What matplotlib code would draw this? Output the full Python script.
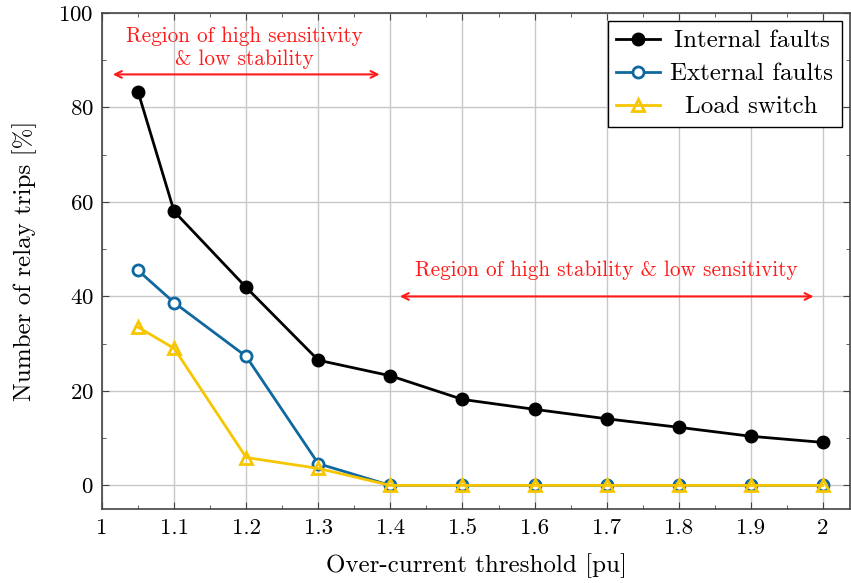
import matplotlib
matplotlib.use("Agg")
import matplotlib.pyplot as plt
from matplotlib.ticker import MultipleLocator

plt.rcParams['font.family'] = ['cmr10', 'DejaVu Serif']
plt.rcParams['mathtext.fontset'] = 'cm'
plt.rcParams['axes.formatter.use_mathtext'] = True

thresholds = [1.05, 1.1, 1.2, 1.3, 1.4, 1.5, 1.6, 1.7, 1.8, 1.9, 2.0]
internal = [83.3, 58.0, 41.9, 26.5, 23.2, 18.2, 16.1, 14.1, 12.3, 10.4, 9.1]
external = [45.5, 38.7, 27.3, 4.6, 0, 0, 0, 0, 0, 0, 0]
load_switch = [33.5, 29.0, 5.9, 3.6, 0, 0, 0, 0, 0, 0, 0]
xticks = [1, 1.1, 1.2, 1.3, 1.4, 1.5, 1.6, 1.7, 1.8, 1.9, 2]
xticklabels = ['1', '1.1', '1.2', '1.3', '1.4', '1.5', '1.6', '1.7', '1.8', '1.9', '2']
yticks = [0, 20, 40, 60, 80, 100]

blue = '#0f68a0'
yellow = '#f7c600'

fig = plt.figure(figsize=(8.51, 5.83), dpi=100)
ax = fig.add_axes([0.1199, 0.1269, 0.8789, 0.8508])

ax.plot(thresholds, internal, color='black', lw=2, marker='o', ms=9,
        label='Internal faults', zorder=3)
ax.plot(thresholds, external, color=blue, lw=2, marker='o', ms=8,
        mfc='white', mew=2, label='External faults', zorder=4)
ax.plot(thresholds, load_switch, color=yellow, lw=2, marker='^', ms=8,
        mfc='none', mew=2, label='Load switch', zorder=5)

ax.set_xlim(1, 2.0375)
ax.set_ylim(-5, 100)
ax.set_xticks(xticks)
ax.set_xticklabels(xticklabels)
ax.set_yticks(yticks)
ax.xaxis.set_minor_locator(MultipleLocator(0.05))
ax.yaxis.set_minor_locator(MultipleLocator(10))
ax.tick_params(which='both', direction='in', top=True, right=True, labelsize=16.5)
ax.tick_params(which='major', length=5, color='#444444')
ax.tick_params(which='minor', length=3, color='#444444')
ax.tick_params(axis='x', pad=7)
ax.tick_params(axis='y', pad=6)
ax.grid(True, which='major', color='#c8c8c8', lw=1)
for s in ax.spines.values():
    s.set_color('#444444')
    s.set_linewidth(1.2)

ax.set_xlabel('Over-current threshold [pu]', fontsize=18, labelpad=11)
ax.set_ylabel('Number of relay trips [%]', fontsize=18, labelpad=15)

leg = ax.legend(loc='upper right', fontsize=18, frameon=True, fancybox=False,
                edgecolor='black', framealpha=1, handlelength=1.75,
                handletextpad=0.4, borderaxespad=0.32, labelspacing=0.42,
                borderpad=0.35)
leg.get_frame().set_linewidth(1.0)

# center legend labels within the text column
renderer = fig.canvas.get_renderer()
widths = [t.get_window_extent(renderer).width for t in leg.get_texts()]
wmax = max(widths)
for t, w in zip(leg.get_texts(), widths):
    t.set_x((wmax - w) / 2.0)

red = '#ff1a1a'
ax.annotate('', xy=(1.015, 87), xytext=(1.385, 87),
            arrowprops=dict(arrowstyle='<->', color=red, lw=1.5,
                            shrinkA=0, shrinkB=0, mutation_scale=12))
ax.text(1.198, 92.6, 'Region of high sensitivity\n& low stability', color=red,
        fontsize=15.3, ha='center', va='center', linespacing=1.2)
ax.annotate('', xy=(1.413, 40), xytext=(1.987, 40),
            arrowprops=dict(arrowstyle='<->', color=red, lw=1.5,
                            shrinkA=0, shrinkB=0, mutation_scale=12))
ax.text(1.70, 45.5, 'Region of high stability & low sensitivity', color=red,
        fontsize=15.3, ha='center', va='center')

fig.savefig('out.png', dpi=100)
